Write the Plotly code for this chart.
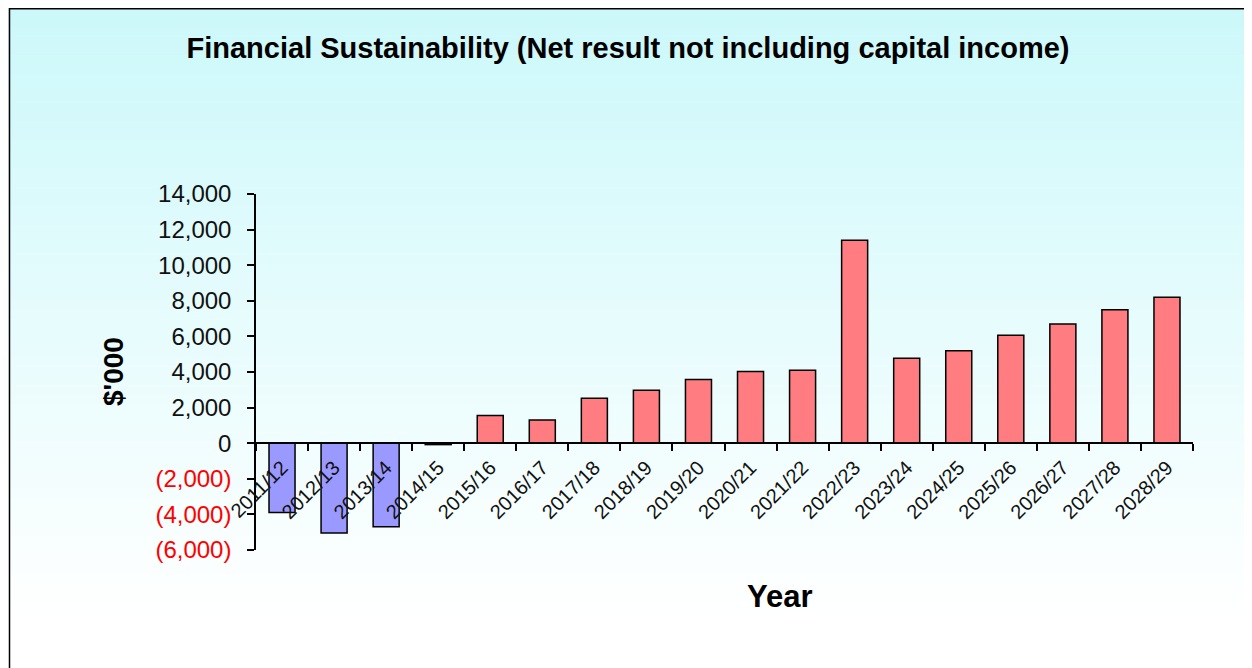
import plotly.graph_objects as go

years = ["2011/12", "2012/13", "2013/14", "2014/15", "2015/16", "2016/17", "2017/18",
         "2018/19", "2019/20", "2020/21", "2021/22", "2022/23", "2023/24", "2024/25",
         "2025/26", "2026/27", "2027/28", "2028/29"]
net_result = [-3900, -5050, -4700, -80, 1550, 1300, 2530, 2980, 3580, 4030, 4100,
              11400, 4770, 5200, 6060, 6700, 7500, 8200]

y_tick_vals = [-6000, -4000, -2000, 0, 2000, 4000, 6000, 8000, 10000, 12000, 14000]
y_tick_text = ["(6,000)", "(4,000)", "(2,000)", "0", "2,000", "4,000", "6,000",
               "8,000", "10,000", "12,000", "14,000"]

title_text = "Financial Sustainability (Net result not including capital income)"
y_title = "$'000"
x_title = "Year"

POS = "#FF7C80"
NEG = "#9999FF"
bar_colors = [NEG if v < 0 else POS for v in net_result]

# page body has an 8px margin; figure is laid out in page coords minus 8
OFF = 8
W, H = 1252 - OFF, 668 - OFF
L, R, T, B = 256 - OFF, 1193 - OFF, 194 - OFF, 550 - OFF
pw, ph = R - L, B - T


def px_x(x):
    return (x - OFF - L) / pw


def px_y(y):
    return (B - (y - OFF)) / ph


fig = go.Figure()
fig.add_trace(go.Bar(
    x=years, y=net_result,
    marker=dict(color=bar_colors, line=dict(color="black", width=1.5)),
    width=0.5,
    hoverinfo="x+y",
))

# background gradient (light cyan to white)
shapes = []
n = 70
top_px, bot_px = OFF, 668
c_top = (204, 248, 250)
c_bot = (255, 255, 255)
for i in range(n):
    y0 = top_px + (bot_px - top_px) * i / n
    y1 = top_px + (bot_px - top_px) * (i + 1) / n
    t = min(1.0, (i + 0.5) / n / 0.92)
    c = tuple(round(c_top[k] + (c_bot[k] - c_top[k]) * t) for k in range(3))
    shapes.append(dict(type="rect", xref="paper", yref="paper", layer="below",
                       x0=px_x(OFF), x1=px_x(1260), y0=px_y(y1 + 0.5), y1=px_y(y0),
                       fillcolor="rgb(%d,%d,%d)" % c, line=dict(width=0)))
# frame border
shapes.append(dict(type="line", xref="paper", yref="paper", x0=px_x(9), x1=px_x(1260),
                   y0=px_y(8.75), y1=px_y(8.75), line=dict(color="black", width=1.5)))
shapes.append(dict(type="line", xref="paper", yref="paper", x0=px_x(9.5), x1=px_x(9.5),
                   y0=px_y(8), y1=px_y(680), line=dict(color="black", width=1.5)))

ytext = ['<span style="color:#FF0000">%s</span>' % t if v < 0 else t
         for v, t in zip(y_tick_vals, y_tick_text)]

fig.update_layout(
    width=W, height=H,
    margin=dict(l=L, r=W - R, t=T, b=H - B, autoexpand=False),
    paper_bgcolor="white", plot_bgcolor="rgba(0,0,0,0)",
    font=dict(family="Liberation Sans, Arial, sans-serif", color="black"),
    showlegend=False,
    shapes=shapes,
    title=dict(text="<b>%s</b>" % title_text, x=(628 - OFF) / W, xanchor="center",
               y=1 - (48 - OFF) / H, yanchor="middle",
               font=dict(size=29, family="Liberation Sans, Arial, sans-serif", color="black")),
    xaxis=dict(
        type="category", range=[-0.5, 17.5], anchor="free", position=0.3,
        showline=True, linecolor="black", linewidth=1.5,
        ticks="outside", tickson="boundaries", ticklen=7, tickcolor="black", tickwidth=1.5,
        tickangle=-45, tickfont=dict(size=20, color="#111111"),
        ticklabelstandoff=4,
        showgrid=False, zeroline=False, automargin=False,
    ),
    yaxis=dict(
        range=[-6000, 14000], domain=[0, 1],
        tickvals=y_tick_vals, ticktext=ytext,
        showline=True, linecolor="black", linewidth=1.5,
        ticks="outside", ticklen=7, tickcolor="black", tickwidth=1.5,
        ticklabelstandoff=11,
        tickfont=dict(size=24, color="#111111"),
        showgrid=False, zeroline=False, automargin=False,
    ),
    annotations=[
        dict(text="<b>%s</b>" % y_title, xref="paper", yref="paper", x=px_x(113), y=0.5,
             textangle=-90, showarrow=False, xanchor="center", yanchor="middle",
             font=dict(size=28, color="black")),
        dict(text="<b>%s</b>" % x_title, xref="paper", yref="paper", x=px_x(780), y=px_y(596),
             showarrow=False, xanchor="center", yanchor="middle",
             font=dict(size=31, color="black")),
    ],
)

fig.write_html("out.html")
